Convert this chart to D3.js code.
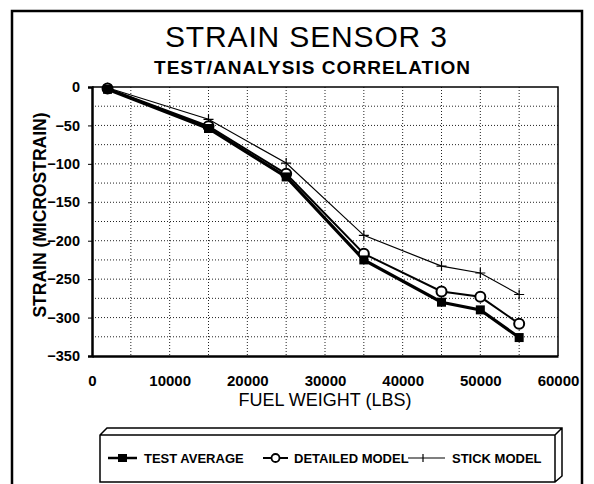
<!DOCTYPE html>
<html>
<head>
<meta charset="utf-8">
<script src="https://cdn.jsdelivr.net/npm/d3@7"></script>
<style>
  body { margin: 0; background: #fff; }
  text { font-family: Arial, "Liberation Sans", Helvetica, sans-serif; fill: #000; }
</style>
</head>
<body>
<div id="chart"></div>
<script>
// fuel weight (lbs) at each measurement
var fuelWeight = [2000, 15000, 25000, 35000, 45000, 50000, 55000];
var testAverage = [-3, -54, -117, -225, -280, -290, -326];
var detailedModel = [-2, -51, -113, -217, -266, -273, -308];
var stickModel = [-1, -42, -99, -193, -233, -242, -270];
var xTicks = [0, 10000, 20000, 30000, 40000, 50000, 60000];
var yTicks = [0, -50, -100, -150, -200, -250, -300, -350];
var legendNames = ["TEST AVERAGE", "DETAILED MODEL", "STICK MODEL"];

var W = 594, H = 484;
var margin = { left: 92, right: 36, top: 87, bottom: 128 };
var width = W - margin.left - margin.right;
var height = H - margin.top - margin.bottom;

var svg = d3.select("#chart").append("svg")
  .attr("width", W)
  .attr("height", H);

// outer frame
svg.append("path")
  .attr("d", "M12,490 L12,11 L582,11 L582,490")
  .attr("fill", "none")
  .attr("stroke", "#000")
  .attr("stroke-width", 2.5);

svg.append("text")
  .attr("x", 306).attr("y", 47)
  .attr("text-anchor", "middle")
  .attr("font-size", 30)
  .attr("textLength", 282)
  .text("STRAIN SENSOR 3");

svg.append("text")
  .attr("x", 312).attr("y", 74)
  .attr("text-anchor", "middle")
  .attr("font-size", 19)
  .attr("font-weight", "bold")
  .attr("textLength", 316)
  .text("TEST/ANALYSIS CORRELATION");

var g = svg.append("g")
  .attr("transform", "translate(" + margin.left + "," + margin.top + ")");

var x = d3.scaleLinear().domain([0, 60000]).range([0, width]);
var y = d3.scaleLinear().domain([-350, 0]).range([height, 0]);

// grid
g.append("g")
  .selectAll("line")
  .data(d3.range(5000, 60000, 5000))
  .enter().append("line")
  .attr("x1", d => x(d)).attr("x2", d => x(d))
  .attr("y1", 0).attr("y2", height)
  .attr("stroke", "#222")
  .attr("stroke-width", 1)
  .attr("stroke-dasharray", "1,2");

g.append("g")
  .selectAll("line")
  .data(d3.range(-325, 0, 25))
  .enter().append("line")
  .attr("x1", 0).attr("x2", width)
  .attr("y1", d => y(d)).attr("y2", d => y(d))
  .attr("stroke", "#222")
  .attr("stroke-width", 1)
  .attr("stroke-dasharray", "1,2");

// plot border: heavy left/bottom, light top/right
g.append("path")
  .attr("d", "M0,0 L" + width + ",0 L" + width + "," + height)
  .attr("fill", "none").attr("stroke", "#000").attr("stroke-width", 1.5);

var xAxis = g.append("g")
  .attr("transform", "translate(0," + height + ")")
  .call(d3.axisBottom(x).tickValues(xTicks).tickSize(0).tickPadding(19).tickFormat(d3.format("d")));
xAxis.select(".domain").attr("stroke-width", 2.5);
xAxis.selectAll("text")
  .attr("font-size", 15).attr("font-weight", "bold")
  .attr("font-family", "Arial, 'Liberation Sans', sans-serif");

var yAxis = g.append("g")
  .call(d3.axisLeft(y).tickValues(yTicks).tickSize(4).tickPadding(8).tickFormat(d3.format("d")));
yAxis.select(".domain").attr("stroke-width", 2.5);
yAxis.selectAll("text")
  .attr("font-size", 14.5).attr("font-weight", "bold")
  .attr("font-family", "Arial, 'Liberation Sans', sans-serif");

svg.append("text")
  .attr("x", 325).attr("y", 406)
  .attr("text-anchor", "middle")
  .attr("font-size", 18)
  .text("FUEL WEIGHT (LBS)");

svg.append("text")
  .attr("transform", "translate(46,215) rotate(-90)")
  .attr("text-anchor", "middle")
  .attr("font-size", 17.5)
  .attr("font-weight", "bold")
  .text("STRAIN (MICROSTRAIN)");

var line = d3.line().x(d => x(d[0])).y(d => y(d[1]));
var pts = function (vals) { return fuelWeight.map((f, i) => [f, vals[i]]); };

g.append("path").datum(pts(stickModel))
  .attr("d", line).attr("fill", "none").attr("stroke", "#000").attr("stroke-width", 1.2);
g.append("path").datum(pts(detailedModel))
  .attr("d", line).attr("fill", "none").attr("stroke", "#000").attr("stroke-width", 2);
g.append("path").datum(pts(testAverage))
  .attr("d", line).attr("fill", "none").attr("stroke", "#000").attr("stroke-width", 3.2);

// markers (circles under squares, as in the original)
g.selectAll(".pl").data(pts(stickModel)).enter().append("path")
  .attr("class", "pl")
  .attr("d", d => "M" + (x(d[0]) - 5) + "," + y(d[1]) + "h10M" + x(d[0]) + "," + (y(d[1]) - 5) + "v10")
  .attr("stroke", "#000").attr("stroke-width", 1.2);

g.selectAll(".ci").data(pts(detailedModel)).enter().append("circle")
  .attr("class", "ci")
  .attr("cx", d => x(d[0])).attr("cy", d => y(d[1])).attr("r", 5)
  .attr("fill", "#fff").attr("stroke", "#000").attr("stroke-width", 2);

g.selectAll(".sq").data(pts(testAverage)).enter().append("rect")
  .attr("class", "sq")
  .attr("x", d => x(d[0]) - 4.5).attr("y", d => y(d[1]) - 4.5)
  .attr("width", 9).attr("height", 9).attr("fill", "#000");

// legend box (3D look)
var lg = svg.append("g");
lg.append("path")
  .attr("d", "M100,482 L100,435 L107,428 L562,428 L562,476 L555,482 Z M100,435 L555,435 L555,482 M555,435 L562,428")
  .attr("fill", "none").attr("stroke", "#000").attr("stroke-width", 1.5);

var legendSymX = [108, 263, 408];
var legendTextX = [144, 294, 452];
var ly = 458;

// test average symbol
lg.append("line").attr("x1", legendSymX[0]).attr("x2", legendSymX[0] + 29)
  .attr("y1", ly).attr("y2", ly).attr("stroke", "#000").attr("stroke-width", 2.5);
lg.append("rect").attr("x", legendSymX[0] + 10).attr("y", ly - 4).attr("width", 9).attr("height", 8).attr("fill", "#000");
// detailed model symbol
lg.append("line").attr("x1", legendSymX[1]).attr("x2", legendSymX[1] + 25)
  .attr("y1", ly).attr("y2", ly).attr("stroke", "#000").attr("stroke-width", 2);
lg.append("circle").attr("cx", legendSymX[1] + 12.5).attr("cy", ly).attr("r", 4)
  .attr("fill", "#fff").attr("stroke", "#000").attr("stroke-width", 1.8);
// stick model symbol
lg.append("line").attr("x1", legendSymX[2]).attr("x2", legendSymX[2] + 37)
  .attr("y1", ly).attr("y2", ly).attr("stroke", "#000").attr("stroke-width", 1.2);
lg.append("line").attr("x1", legendSymX[2] + 15).attr("x2", legendSymX[2] + 15)
  .attr("y1", ly - 4).attr("y2", ly + 4).attr("stroke", "#000").attr("stroke-width", 1.2);

lg.selectAll(".lt").data(legendNames).enter().append("text")
  .attr("class", "lt")
  .attr("x", (d, i) => legendTextX[i]).attr("y", ly + 5)
  .attr("font-size", 13).attr("font-weight", "bold")
  .text(d => d);
</script>
</body>
</html>
